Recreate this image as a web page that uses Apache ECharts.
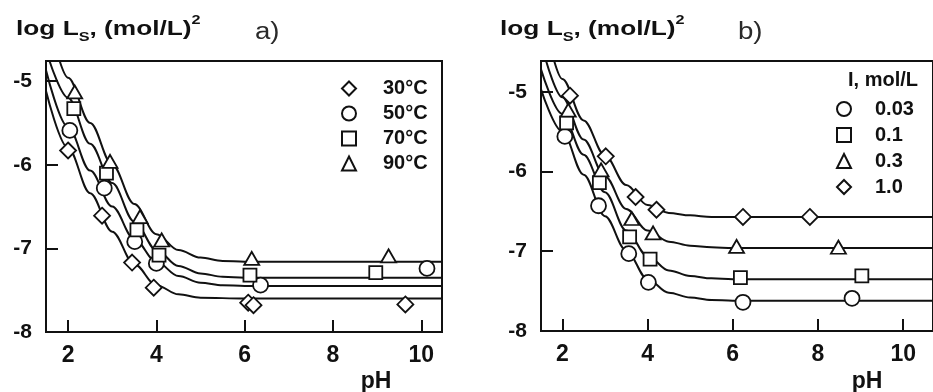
<!DOCTYPE html>
<html>
<head>
<meta charset="utf-8">
<script src="https://cdn.jsdelivr.net/npm/echarts@6/dist/echarts.min.js"></script>
<style>
  html, body { margin: 0; padding: 0; background: #fff; }
  #chart { width: 933px; height: 392px; }
</style>
</head>
<body>
<div id="chart"></div>
<script>
// Axis ticks shared by both panels
const xTicks = [2, 4, 6, 8, 10];
const yTicks = [-8, -7, -6, -5];

// Panel a) solubility product vs pH at four temperatures
const tempNames = ['30°C', '50°C', '70°C', '90°C'];
const tempSymbols = ['diamond', 'circle', 'rect', 'triangle'];
const t30Points = [[2.0, -5.83], [2.77, -6.61], [3.45, -7.17], [3.94, -7.47], [6.08, -7.65], [6.2, -7.68], [9.64, -7.67]];
const t50Points = [[2.04, -5.59], [2.82, -6.28], [3.51, -6.92], [4.0, -7.18], [6.36, -7.44], [10.13, -7.24]];
const t70Points = [[2.13, -5.33], [2.87, -6.10], [3.56, -6.78], [4.06, -7.08], [6.12, -7.32], [8.97, -7.29]];
const t90Points = [[2.15, -5.13], [2.95, -5.96], [3.63, -6.62], [4.12, -6.90], [6.16, -7.12], [9.26, -7.09]];
const t30Curve = [[1.5, -5.12], [2.0, -5.80], [2.5, -6.34], [3.0, -6.80], [3.5, -7.19], [4.0, -7.44], [4.5, -7.55], [5.0, -7.59], [6.0, -7.60], [10.5, -7.60]];
const t50Curve = [[1.5, -4.87], [2.0, -5.55], [2.5, -6.07], [3.0, -6.50], [3.5, -6.89], [4.0, -7.16], [4.5, -7.33], [5.0, -7.41], [5.5, -7.44], [6.0, -7.45], [10.5, -7.45]];
const t70Curve = [[1.58, -4.76], [2.0, -5.20], [2.5, -5.75], [3.0, -6.22], [3.5, -6.68], [4.0, -7.02], [4.5, -7.21], [5.0, -7.30], [5.5, -7.34], [6.0, -7.35], [10.5, -7.35]];
const t90Curve = [[1.81, -4.76], [2.0, -4.96], [2.5, -5.50], [3.0, -6.00], [3.5, -6.47], [4.0, -6.83], [4.5, -7.02], [5.0, -7.11], [5.5, -7.15], [6.0, -7.16], [10.5, -7.16]];

// Panel b) solubility product vs pH at four ionic strengths
const ionNames = ['0.03', '0.1', '0.3', '1.0'];
const ionSymbols = ['circle', 'rect', 'triangle', 'diamond'];
const i003Points = [[2.06, -5.56], [2.85, -6.43], [3.56, -7.03], [4.02, -7.39], [6.24, -7.64], [8.80, -7.59]];
const i01Points = [[2.10, -5.39], [2.87, -6.14], [3.58, -6.82], [4.06, -7.10], [6.18, -7.33], [9.03, -7.31]];
const i03Points = [[2.14, -5.23], [2.91, -5.98], [3.63, -6.59], [4.13, -6.77], [6.09, -6.94], [8.48, -6.95]];
const i10Points = [[2.18, -5.05], [3.02, -5.81], [3.72, -6.32], [4.21, -6.48], [6.24, -6.57], [7.81, -6.57]];
const i003Curve = [[1.5, -4.97], [2.0, -5.50], [2.5, -6.04], [3.0, -6.56], [3.5, -6.99], [4.0, -7.35], [4.5, -7.52], [5.0, -7.58], [5.5, -7.61], [6.0, -7.62], [10.8, -7.62]];
const i01Curve = [[1.5, -4.72], [2.0, -5.28], [2.5, -5.79], [3.0, -6.26], [3.5, -6.74], [4.0, -7.06], [4.5, -7.24], [5.0, -7.31], [5.5, -7.34], [6.0, -7.35], [10.8, -7.35]];
const i03Curve = [[1.62, -4.615], [2.0, -5.07], [2.5, -5.60], [3.0, -6.06], [3.5, -6.47], [4.0, -6.74], [4.5, -6.88], [5.0, -6.93], [5.5, -6.95], [6.0, -6.96], [10.8, -6.96]];
const i10Curve = [[1.81, -4.615], [2.0, -4.84], [2.5, -5.36], [3.0, -5.80], [3.5, -6.17], [4.0, -6.42], [4.5, -6.52], [5.0, -6.55], [5.5, -6.57], [10.8, -6.57]];

const INK = '#111';
const FONT = '"Liberation Sans", Arial, Helvetica, sans-serif';
const symbolSizes = { diamond: 16, circle: 15, rect: 13, triangle: [15, 13] };

function curveSeries(data, axisIndex) {
  return {
    type: 'line', data: data, xAxisIndex: axisIndex, yAxisIndex: axisIndex,
    showSymbol: false, smooth: 0.35, smoothMonotone: 'x', silent: true,
    lineStyle: { color: INK, width: 2 }, z: 2
  };
}
function markerSeries(name, symbol, data, axisIndex) {
  return {
    type: 'scatter', name: name, data: data, xAxisIndex: axisIndex, yAxisIndex: axisIndex,
    symbol: symbol, symbolSize: symbolSizes[symbol],
    itemStyle: { color: '#fff', borderColor: INK, borderWidth: 1.8, opacity: 1 }, z: 3
  };
}
function xAxisFor(gridIndex, max) {
  return {
    type: 'value', gridIndex: gridIndex, min: 1.5, max: max,
    axisLine: { show: false }, splitLine: { show: false },
    axisTick: { inside: true, length: 12, customValues: xTicks, lineStyle: { color: INK, width: 2 } },
    axisLabel: { customValues: xTicks, color: INK, fontFamily: FONT, fontWeight: 'bold', fontSize: 23, margin: 12 }
  };
}
function yAxisFor(gridIndex, max) {
  return {
    type: 'value', gridIndex: gridIndex, min: -8, max: max,
    axisLine: { show: false }, splitLine: { show: false },
    axisTick: { inside: true, length: 12, customValues: yTicks, lineStyle: { color: INK, width: 2 } },
    axisLabel: { customValues: yTicks, color: INK, fontFamily: FONT, fontWeight: 'bold', fontSize: 21, margin: 14 }
  };
}
function titleText(x, letter, letterX) {
  return [
    {
      type: 'text', x: x, y: 14, scaleX: 1.25,
      style: {
        text: '{m|log L}{sub|S}{m|, (mol/L)}{sup|2}',
        fill: INK, verticalAlign: 'top',
        rich: {
          m: { fontFamily: FONT, fontWeight: 'bold', fontSize: 21, lineHeight: 30, fill: INK },
          sub: { fontFamily: FONT, fontWeight: 'bold', fontSize: 13, lineHeight: 14, verticalAlign: 'bottom', fill: INK },
          sup: { fontFamily: FONT, fontWeight: 'bold', fontSize: 13, lineHeight: 14, verticalAlign: 'top', fill: INK }
        }
      }
    },
    {
      type: 'text', x: letterX, y: 33, scaleX: 1.2,
      style: { text: letter, fill: '#2a2a2a', font: '23px ' + FONT, verticalAlign: 'middle' }
    }
  ];
}

const chart = echarts.init(document.getElementById('chart'), null, { renderer: 'canvas' });

chart.setOption({
  animation: false,
  backgroundColor: '#fff',
  grid: [
    { left: 46, top: 61, width: 396, height: 271, show: true, borderColor: INK, borderWidth: 2, backgroundColor: 'transparent' },
    { left: 541, top: 61, width: 400, height: 270, show: true, borderColor: INK, borderWidth: 2, backgroundColor: 'transparent' }
  ],
  xAxis: [xAxisFor(0, 10.47), xAxisFor(1, 10.7)],
  yAxis: [yAxisFor(0, -4.76), yAxisFor(1, -4.615)],
  legend: [
    {
      data: tempNames, orient: 'vertical', left: 336, top: 71, itemWidth: 14, itemHeight: 14, itemGap: 0,
      selectedMode: false,
      textStyle: { color: INK, fontFamily: FONT, fontWeight: 'bold', fontSize: 20, lineHeight: 25, padding: [0, 0, 0, 22] }
    },
    {
      data: ionNames, orient: 'vertical', left: 831, top: 91, itemWidth: 14, itemHeight: 14, itemGap: 0,
      selectedMode: false,
      textStyle: { color: INK, fontFamily: FONT, fontWeight: 'bold', fontSize: 20, lineHeight: 26, padding: [0, 0, 0, 19] }
    }
  ],
  graphic: [
    ...titleText(16, 'a)', 255),
    ...titleText(500, 'b)', 738),
    { type: 'text', x: 848, y: 80, style: { text: 'I, mol/L', fill: INK, font: 'bold 20px ' + FONT, verticalAlign: 'middle' } },
    { type: 'text', x: 376, y: 370, style: { text: 'pH', fill: INK, font: 'bold 23px ' + FONT, align: 'center', verticalAlign: 'top' } },
    { type: 'text', x: 867, y: 370, style: { text: 'pH', fill: INK, font: 'bold 23px ' + FONT, align: 'center', verticalAlign: 'top' } }
  ],
  series: [
    curveSeries(t30Curve, 0), curveSeries(t50Curve, 0), curveSeries(t70Curve, 0), curveSeries(t90Curve, 0),
    markerSeries(tempNames[0], tempSymbols[0], t30Points, 0),
    markerSeries(tempNames[1], tempSymbols[1], t50Points, 0),
    markerSeries(tempNames[2], tempSymbols[2], t70Points, 0),
    markerSeries(tempNames[3], tempSymbols[3], t90Points, 0),
    curveSeries(i003Curve, 1), curveSeries(i01Curve, 1), curveSeries(i03Curve, 1), curveSeries(i10Curve, 1),
    markerSeries(ionNames[0], ionSymbols[0], i003Points, 1),
    markerSeries(ionNames[1], ionSymbols[1], i01Points, 1),
    markerSeries(ionNames[2], ionSymbols[2], i03Points, 1),
    markerSeries(ionNames[3], ionSymbols[3], i10Points, 1)
  ]
});
</script>
</body>
</html>
